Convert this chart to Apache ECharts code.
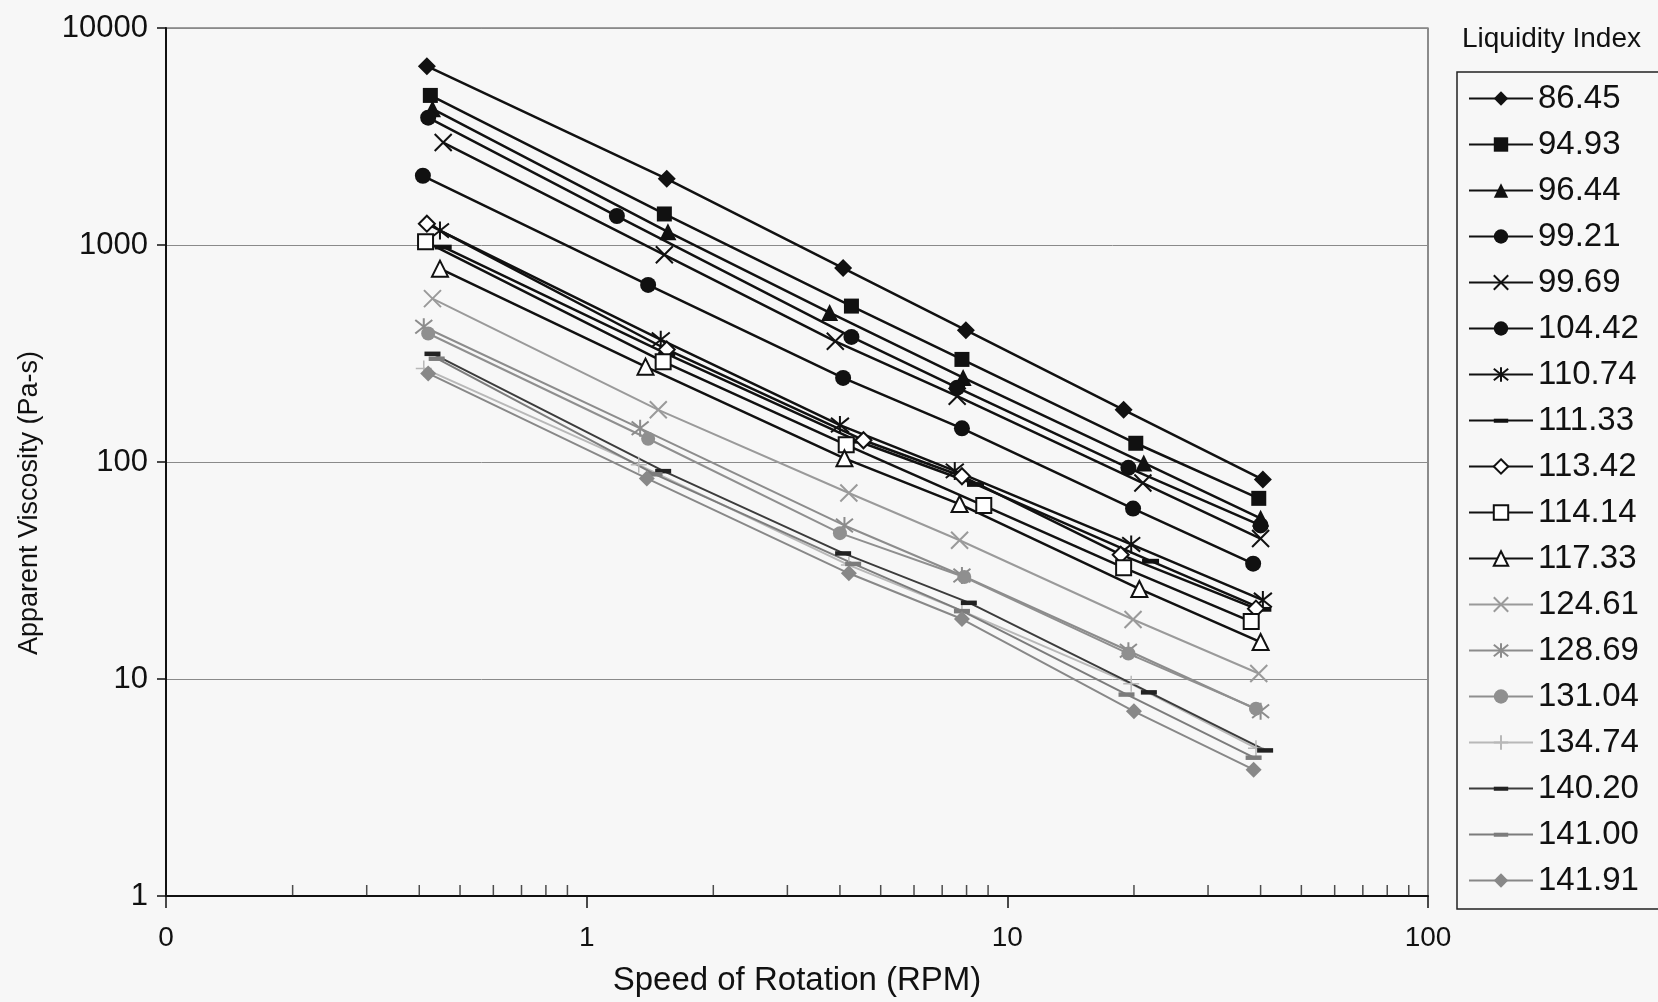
<!DOCTYPE html>
<html><head><meta charset="utf-8">
<script src="https://cdn.jsdelivr.net/npm/echarts@6/dist/echarts.min.js"></script>
<style>html,body{margin:0;padding:0;background:#f7f7f7}#c{width:1658px;height:1002px}</style>
</head><body><div id="c"></div>
<script>
// ---- data ----
const liquidityIndex = ['86.45','94.93','96.44','99.21','99.69','104.42','110.74','111.33','113.42','114.14','117.33','124.61','128.69','131.04','134.74','140.20','141.00','141.91'];

const rpm_86_45  = [0.417, 1.55, 4.07, 7.97, 18.9, 40.5];
const visc_86_45 = [6670, 2018, 783, 405, 174, 83];
const rpm_94_93  = [0.425, 1.53, 4.26, 7.8, 20.2, 39.6];
const visc_94_93 = [4890, 1390, 523, 297, 122, 68];
const rpm_96_44  = [0.43, 1.56, 3.78, 7.85, 21.1, 40];
const visc_96_44 = [4240, 1150, 488, 245, 99, 55];
const rpm_99_21  = [0.42, 1.18, 4.26, 7.6, 19.4, 40];
const visc_99_21 = [3860, 1360, 377, 220, 94, 51];
const rpm_99_69  = [0.456, 1.53, 3.9, 7.6, 21, 40];
const visc_99_69 = [2965, 901, 360, 201, 80, 44.4];
const rpm_104_42  = [0.408, 1.4, 4.07, 7.8, 19.9, 38.4];
const visc_104_42 = [2085, 655, 244, 143, 61, 34];
const rpm_110_74  = [0.448, 1.5, 4.0, 7.5, 19.7, 40.5];
const visc_110_74 = [1165, 366, 148, 91, 41.7, 23.1];
const rpm_111_33  = [0.456, 1.55, 4.4, 8.4, 21.9, 40.5];
const visc_111_33 = [981, 315, 125, 79, 35, 21];
const rpm_113_42  = [0.417, 1.55, 4.55, 7.8, 18.6, 39];
const visc_113_42 = [1254, 330, 126, 86, 37.4, 21.1];
const rpm_114_14  = [0.414, 1.52, 4.14, 8.79, 18.9, 38];
const visc_114_14 = [1036, 290, 120, 63, 32.6, 18.4];
const rpm_117_33  = [0.448, 1.38, 4.1, 7.7, 20.6, 40];
const visc_117_33 = [778, 275, 104, 64, 26, 14.8];
const rpm_124_61  = [0.43, 1.48, 4.2, 7.7, 19.9, 39.6];
const visc_124_61 = [566, 174, 72, 43.6, 18.8, 10.6];
const rpm_128_69  = [0.41, 1.34, 4.1, 7.8, 19.4, 40];
const visc_128_69 = [420, 143, 51, 30, 13.5, 7.1];
const rpm_131_04  = [0.42, 1.4, 4.0, 7.9, 19.4, 39];
const visc_131_04 = [391, 128, 47, 29.5, 13.1, 7.3];
const rpm_134_74  = [0.41, 1.33, 4.2, 7.8, 19.7, 39];
const visc_134_74 = [270, 97, 33.5, 20.6, 9.5, 4.8];
const rpm_140_20  = [0.43, 1.52, 4.07, 8.1, 21.7, 41];
const visc_140_20 = [316, 91, 38, 22.5, 8.7, 4.7];
const rpm_141_00  = [0.44, 1.45, 4.3, 7.8, 19.2, 38.5];
const visc_141_00 = [300, 88, 34, 20.6, 8.5, 4.35];
const rpm_141_91  = [0.42, 1.39, 4.2, 7.8, 20, 38.5];
const visc_141_91 = [256, 84, 30.7, 18.9, 7.1, 3.82];

const xMinorTickValues = [0.2,0.3,0.4,0.5,0.6,0.7,0.8,0.9, 2,3,4,5,6,7,8,9, 20,30,40,50,60,70,80,90];
const xAxisTitle = 'Speed of Rotation (RPM)';
const yAxisTitle = 'Apparent Viscosity (Pa-s)';
const legendTitle = 'Liquidity Index';

const rpmList  = [rpm_86_45, rpm_94_93, rpm_96_44, rpm_99_21, rpm_99_69, rpm_104_42, rpm_110_74, rpm_111_33, rpm_113_42, rpm_114_14, rpm_117_33, rpm_124_61, rpm_128_69, rpm_131_04, rpm_134_74, rpm_140_20, rpm_141_00, rpm_141_91];
const viscList = [visc_86_45, visc_94_93, visc_96_44, visc_99_21, visc_99_69, visc_104_42, visc_110_74, visc_111_33, visc_113_42, visc_114_14, visc_117_33, visc_124_61, visc_128_69, visc_131_04, visc_134_74, visc_140_20, visc_141_00, visc_141_91];

// ---- styles ----
const SYM_X = 'path://M0,0L10,10M10,0L0,10';
const SYM_AST = 'path://M0,1L10,9M10,1L0,9M5,0L5,10';
const SYM_PLUS = 'path://M5,0L5,10M0,5L10,5';
const SYM_DASH = 'path://M0,0M16,0M16,16M0,16M0,6L16,6L16,10.5L0,10.5Z';
const styles = [
  {sym:'diamond', size:18, line:'#111', fill:'#111', bw:0, lw:2.5},
  {sym:'rect', size:15, line:'#111', fill:'#111', bw:0, lw:2.5},
  {sym:'triangle', size:17, line:'#111', fill:'#111', bw:0, lw:2.5},
  {sym:'circle', size:16, line:'#111', fill:'#111', bw:0, lw:2.5},
  {sym:SYM_X, size:17, line:'#111', fill:'none', bw:2, lw:2.5},
  {sym:'circle', size:16, line:'#111', fill:'#111', bw:0, lw:2.5},
  {sym:SYM_AST, size:18, line:'#111', fill:'none', bw:2, lw:2.5},
  {sym:SYM_DASH, size:17, line:'#111', fill:'#111', bw:0, lw:2.5},
  {sym:'emptyDiamond', size:16, line:'#111', fill:'empty', bw:2, lw:2.5},
  {sym:'emptyRect', size:15, line:'#111', fill:'empty', bw:2, lw:2.5},
  {sym:'emptyTriangle', size:16, line:'#111', fill:'empty', bw:2, lw:2.5},
  {sym:SYM_X, size:17, line:'#9a9a9a', fill:'none', bw:2, lw:2},
  {sym:SYM_AST, size:17, line:'#8c8c8c', fill:'none', bw:2, lw:2},
  {sym:'circle', size:14, line:'#8f8f8f', fill:'#8f8f8f', bw:0, lw:2},
  {sym:SYM_PLUS, size:16, line:'#b8b8b8', fill:'none', bw:1.5, lw:2},
  {sym:SYM_DASH, size:16, line:'#3c3c3c', fill:'#222', bw:0, lw:2},
  {sym:SYM_DASH, size:16, line:'#7c7c7c', fill:'#7c7c7c', bw:0, lw:2},
  {sym:'diamond', size:16, line:'#888', fill:'#888', bw:0, lw:2}
];

const series = liquidityIndex.map((name, i) => {
  const s = styles[i];
  const fillColor = (s.fill === 'none' || s.fill === 'empty') ? s.line : s.fill;
  return {
    name, type:'line', data: rpmList[i].map((x, k) => [x, viscList[i][k]]),
    symbol: s.sym, symbolSize: s.size, showAllSymbol: true,
    lineStyle: {color: s.line, width: s.lw},
    itemStyle: {color: fillColor, borderColor: s.line, borderWidth: s.bw},
    emphasis: {disabled: true}
  };
});
series.push({
  type:'scatter', silent:true, name:'_minor', data: xMinorTickValues.map(v => [v, 1]),
  symbol:'rect', symbolSize:[1.5, 11], symbolOffset:[0, -5.5],
  itemStyle:{color:'#222'}, z: 1
});

const chart = echarts.init(document.getElementById('c'));
const FONT = "'Liberation Sans', Arial, sans-serif";
chart.setOption({
  animation: false,
  backgroundColor: '#f7f7f7',
  grid: {left:166, right:230, top:28, bottom:105, show:true, borderColor:'#444', borderWidth:1.2, backgroundColor:'transparent'},
  xAxis: {
    type:'log', logBase:10, min:0.1, max:100,
    axisLine:{show:true, onZero:false, lineStyle:{color:'#111', width:2}},
    axisTick:{show:true, length:12, lineStyle:{color:'#111', width:1.5}},
    splitLine:{show:false},
    axisLabel:{fontFamily:FONT, fontSize:28, color:'#111', margin:28,
      formatter: v => (v < 0.5 ? '0' : String(Math.round(v)))},
    name: xAxisTitle, nameLocation:'middle', nameGap:68,
    nameTextStyle:{fontFamily:FONT, fontSize:33, color:'#111'}
  },
  yAxis: {
    type:'log', logBase:10, min:1, max:10000,
    axisLine:{show:true, lineStyle:{color:'#111', width:2}},
    axisTick:{show:true, length:9, lineStyle:{color:'#111', width:1.5}},
    splitLine:{show:true, lineStyle:{color:'#8a8a8a', width:1}},
    axisLabel:{fontFamily:FONT, fontSize:31, color:'#111', margin:18,
      formatter: v => String(Math.round(v))}
  },
  legend: {
    data: liquidityIndex, orient:'vertical', left:1457, top:72,
    itemWidth:64, itemHeight:18, itemGap:13,
    padding:[10, 40, 12, 11],
    borderColor:'#222', borderWidth:1.5, backgroundColor:'#f7f7f7',
    textStyle:{fontFamily:FONT, fontSize:33, color:'#111'},
    selectedMode:false
  },
  graphic: [
    {type:'text', x:30, y:503, rotation:Math.PI/2,
      style:{text:yAxisTitle, font:"27px 'Liberation Sans', Arial, sans-serif", fill:'#111', align:'center', verticalAlign:'middle'}},
    {type:'text', x:1462, y:39,
      style:{text:legendTitle, font:"28px 'Liberation Sans', Arial, sans-serif", fill:'#111', align:'left', verticalAlign:'middle'}}
  ],
  series
});
</script></body></html>
